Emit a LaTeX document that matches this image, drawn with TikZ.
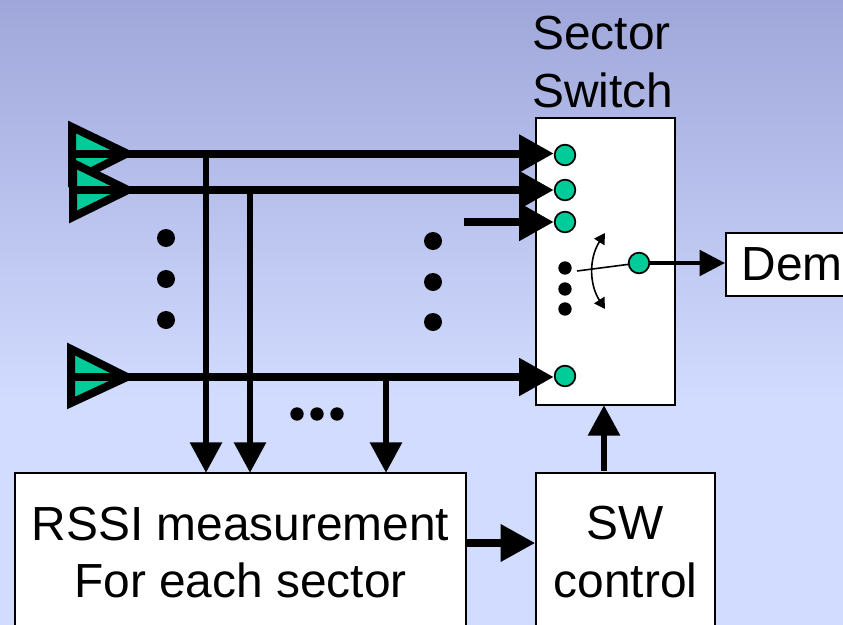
\documentclass[tikz,border=0pt]{standalone}
\usepackage{fontspec}
\setmainfont{Liberation Sans}
\usetikzlibrary{arrows.meta,calc}
\definecolor{bgtop}{HTML}{9FA7DA}
\definecolor{bgbot}{HTML}{D2DCFF}
\definecolor{port}{HTML}{00CC99}
\tikzset{
  x=0.75pt,y=-0.75pt,
  label/.style={font=\fontsize{35.9}{43}\selectfont,align=center,text=black},
  block/.style={draw=black,fill=white,line width=1.5pt,inner sep=0pt,label},
  portdot/.style={circle,draw=black,fill=port,line width=1.3pt,minimum size=15.5pt,inner sep=0pt},
  bigdot/.style={circle,fill=black,minimum size=13.5pt,inner sep=0pt},
  middot/.style={circle,fill=black,minimum size=10pt,inner sep=0pt},
  feed/.style={line width=6pt,-{Triangle[length=26pt,width=27pt]}},
  tap/.style={line width=5.2pt,-{Triangle[length=23pt,width=23pt]}},
  outarrow/.style={line width=3pt,-{Triangle[length=19pt,width=19pt]}},
  antenna/.style={draw=black,fill=port,line width=6pt,miter limit=10,line join=miter},
  swingarrow/.style={line width=1.2pt,{Triangle[length=8pt,width=9pt]}-{Triangle[length=8pt,width=9pt]}},
}
\begin{document}
\begin{tikzpicture}
\useasboundingbox (0,0) rectangle (843,625);
\clip (0,0) rectangle (843,625);
\fill[bgbot] (0,0) rectangle (843,625);
\shade[top color=bgtop,bottom color=bgbot,shading angle=0] (0,0) rectangle (843,400);

% antennas
\draw[antenna] (72,127) -- (127,153.5) -- (72,181) -- cycle;
\draw[antenna] (73,163) -- (128,190) -- (73,217) -- cycle;
\draw[antenna] (71,349) -- (127,377) -- (71,403) -- cycle;
\coordinate (a1) at (72,153.5);
\coordinate (a2) at (72,190);
\coordinate (a3) at (72,377);
\coordinate (a0) at (464,222);

% boxes
\node[block,minimum width=104.25pt,minimum height=215.25pt] (switch) at (605.5,261.5) {};
\node[block,anchor=west,minimum height=47pt,inner xsep=11.8pt] (dem) at (725,264.5) {Dem};
\node[block,minimum width=338pt,minimum height=119pt] (rssi) at (240.5,552.5) {RSSI measurement\\For each sector};
\node[block,minimum width=134pt,minimum height=119pt] (sw) at (625.5,552) {SW\\control};
\node[label,align=left,anchor=south west,inner sep=0pt] (title) at (532,108) {Sector\\Switch};

% ports
\node[portdot] (p1) at (565,155) {};
\node[portdot] (p2) at (565,190) {};
\node[portdot] (p3) at (565,222) {};
\node[portdot] (p4) at (565,376) {};
\node[portdot] (out) at (639,263) {};

% junctions and targets on the RSSI box
\coordinate (j1) at (206,153.5);
\coordinate (j2) at (250,190);
\coordinate (j3) at (386,377);
\coordinate (t1) at (206,473);
\coordinate (t2) at (250,473);
\coordinate (t3) at (386,473);

% feeds
\draw[feed] (a1) -- (a1 -| p1.west);
\draw[feed] (a2) -- (a2 -| p2.west);
\draw[feed] (a0) -- (a0 -| p3.west);
\draw[feed] (a3) -- (a3 -| p4.west);

% taps
\draw[tap] (j1) -- (t1);
\draw[tap] (j2) -- (t2);
\draw[tap] (j3) -- (t3);

% control arrows
\draw[tap,line width=5.5pt,-{Triangle[length=26pt,width=27pt]}] (rssi.east |- 0,543) -- (sw.west |- 0,543);
\coordinate (swtop) at (604,471);
\coordinate (swbot) at (604,405);
\draw[tap] (swtop) -- (swbot);
\draw[outarrow] (out) -- (dem.west |- out);

% switch arm
\coordinate (arm) at (577,271);
\draw[line width=1.2pt] (arm) -- (out);
\coordinate (sw1) at (605,233);
\coordinate (sw2) at (605,309);
\draw[swingarrow] (sw1) .. controls (589,258) and (589,284) .. (sw2);

% dots
\foreach \n/\x/\y in {l1/166/238,l2/166/279,l3/166/320,r1/433/241,r2/433/282,r3/433/322}
  \node[bigdot] (\n) at (\x,\y) {};
\foreach \n/\x/\y in {s1/565/268,s2/565/289,s3/565/309,h1/297/414,h2/317/414,h3/337/414}
  \node[middot] (\n) at (\x,\y) {};
\end{tikzpicture}
\end{document}
